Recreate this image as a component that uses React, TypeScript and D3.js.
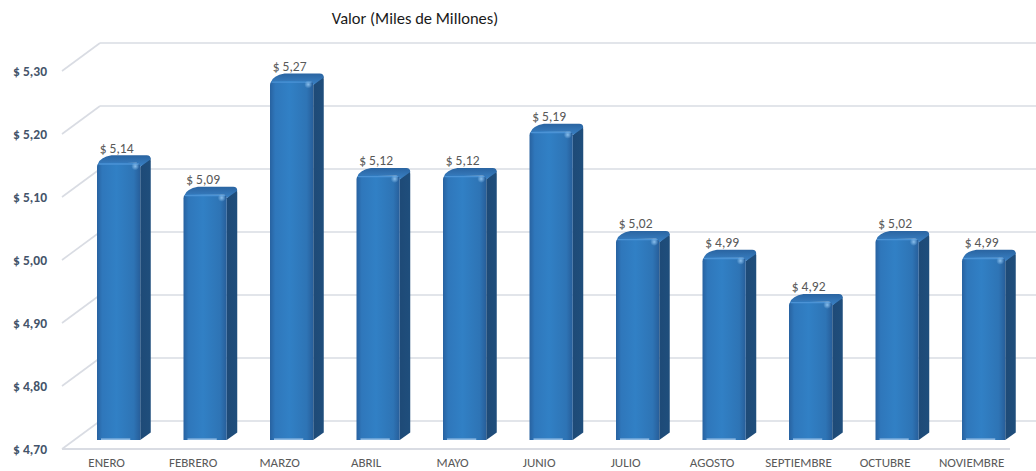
import React from "react";
import * as d3 from "d3";

const categories = ["ENERO", "FEBRERO", "MARZO", "ABRIL", "MAYO", "JUNIO", "JULIO", "AGOSTO", "SEPTIEMBRE", "OCTUBRE", "NOVIEMBRE"];
const values = [5.14, 5.09, 5.27, 5.12, 5.12, 5.19, 5.02, 4.99, 4.92, 5.02, 4.99];
const yTicks = [4.7, 4.8, 4.9, 5.0, 5.1, 5.2, 5.3];
const title = "Valor (Miles de Millones)";

const W = 1036;
const H = 471;
const FONT = "Carlito, Calibri, Lato, 'Liberation Sans', sans-serif";

// oblique offsets from the back wall plane
const FRONT = { dx: -38, dy: 28 };
const BAR_F = { dx: -26, dy: 19 };
const BAR_B = { dx: -15.5, dy: 11.5 };

const fmt = (v: number) => "$ " + v.toFixed(2).replace(".", ",");

export default function App() {
  const y = d3.scaleLinear().domain([4.7, 5.3]).range([421, 43]);
  const x = d3.scaleBand<string>().domain(categories).range([79.75, 1074.5]).paddingInner(0.5).paddingOuter(0.5);
  const bw = x.bandwidth();
  const floorX0 = 100;
  const floorX1 = 1048;
  const grid = "#D9DCE3";
  const base = y.domain()[0];

  return (
    <svg width={W} height={H} style={{ position: "absolute", left: 0, top: 0, background: "#fff" }} fontFamily={FONT}>
      <defs>
        <linearGradient id="front" x1="0" x2="1" y1="0" y2="0">
          <stop offset="0%" stopColor="#2862a0" />
          <stop offset="12%" stopColor="#2f77bb" />
          <stop offset="45%" stopColor="#3180c5" />
          <stop offset="85%" stopColor="#2e74b5" />
          <stop offset="100%" stopColor="#275e9a" />
        </linearGradient>
        <linearGradient id="side" x1="0" x2="1" y1="0" y2="0">
          <stop offset="0%" stopColor="#1e4a77" />
          <stop offset="100%" stopColor="#1f4e7c" />
        </linearGradient>
        <linearGradient id="top" x1="0" x2="0" y1="0" y2="1">
          <stop offset="0%" stopColor="#2a64a1" />
          <stop offset="100%" stopColor="#3a82c6" />
        </linearGradient>
        <radialGradient id="spot">
          <stop offset="0%" stopColor="#8fc3f0" stopOpacity="0.95" />
          <stop offset="100%" stopColor="#8fc3f0" stopOpacity="0" />
        </radialGradient>
      </defs>

      <text x={415} y={24} textAnchor="middle" fontSize={16.5} fill="#1a1a1a">{title}</text>

      {/* back wall gridlines + side diagonals */}
      {yTicks.map((t) => (
        <g key={t}>
          {t > base && <line x1={floorX0} x2={W} y1={y(t)} y2={y(t)} stroke={grid} strokeWidth={1.6} />}
          <line x1={floorX0 + FRONT.dx} y1={y(t) + FRONT.dy} x2={floorX0} y2={y(t)} stroke={grid} strokeWidth={1.6} />
          <text x={47} y={y(t) + FRONT.dy + 4.5} textAnchor="end" fontSize={13.5} fontWeight="bold" fill="#44546A">{fmt(t)}</text>
        </g>
      ))}
      {/* floor */}
      <line x1={floorX0} x2={floorX1} y1={y(base)} y2={y(base)} stroke={grid} strokeWidth={1.6} />
      <line x1={floorX0 + FRONT.dx} x2={floorX1 + FRONT.dx} y1={y(base) + FRONT.dy} y2={y(base) + FRONT.dy} stroke={grid} strokeWidth={2} />

      {/* bars */}
      {categories.map((c, i) => {
        const v = values[i];
        const xb = x(c)!;
        const fx0 = xb + BAR_F.dx;
        const fx1 = fx0 + bw;
        const fTop = y(v) + BAR_F.dy;
        const fBot = y(base) + BAR_F.dy;
        const bx0 = xb + BAR_B.dx;
        const bx1 = bx0 + bw;
        const bTop = y(v) + BAR_B.dy;
        const bBot = y(base) + BAR_B.dy;
        const r = 4;
        const frontPath = `M${fx0},${fBot} L${fx0},${fTop + r} Q${fx0},${fTop} ${fx0 + r},${fTop} L${fx1 - r},${fTop} Q${fx1},${fTop} ${fx1},${fTop + r} L${fx1},${fBot} Z`;
        const sidePath = `M${fx1},${fTop + r} L${bx1 - 1},${bTop + 2} Q${bx1},${bTop + 3} ${bx1},${bTop + r + 2} L${bx1},${bBot} L${fx1},${fBot} Z`;
        const topPath = `M${fx0 + 1},${fTop + 1} Q${fx0 + 3},${bTop + 2} ${bx0 + r},${bTop} L${bx1 - r},${bTop} Q${bx1},${bTop} ${bx1},${bTop + r} L${fx1},${fTop + r} Q${fx1 - 1},${fTop} ${fx1 - r},${fTop} Z`;
        return (
          <g key={c}>
            <path d={sidePath} fill="url(#side)" />
            <path d={topPath} fill="url(#top)" />
            <path d={frontPath} fill="url(#front)" />
            <line x1={fx0 + 2} x2={fx1 - 2} y1={fTop + 1.2} y2={fTop + 1.2} stroke="#4b93d6" strokeWidth={1.4} strokeLinecap="round" />
            <circle cx={fx1 - 5} cy={fTop + 3.5} r={4} fill="url(#spot)" />
            <line x1={fx0 + 4} x2={fx1 - 10} y1={fBot - 0.8} y2={fBot - 0.8} stroke="#8db9e2" strokeWidth={1.6} />
            <text x={fx0 + bw / 2 - 2} y={bTop - 2.5} textAnchor="middle" fontSize={13.5} fill="#595959">{fmt(v)}</text>
            <text x={xb + bw / 2 + FRONT.dx} y={467} textAnchor="middle" fontSize={13} fill="#595959">{c}</text>
          </g>
        );
      })}
    </svg>
  );
}
